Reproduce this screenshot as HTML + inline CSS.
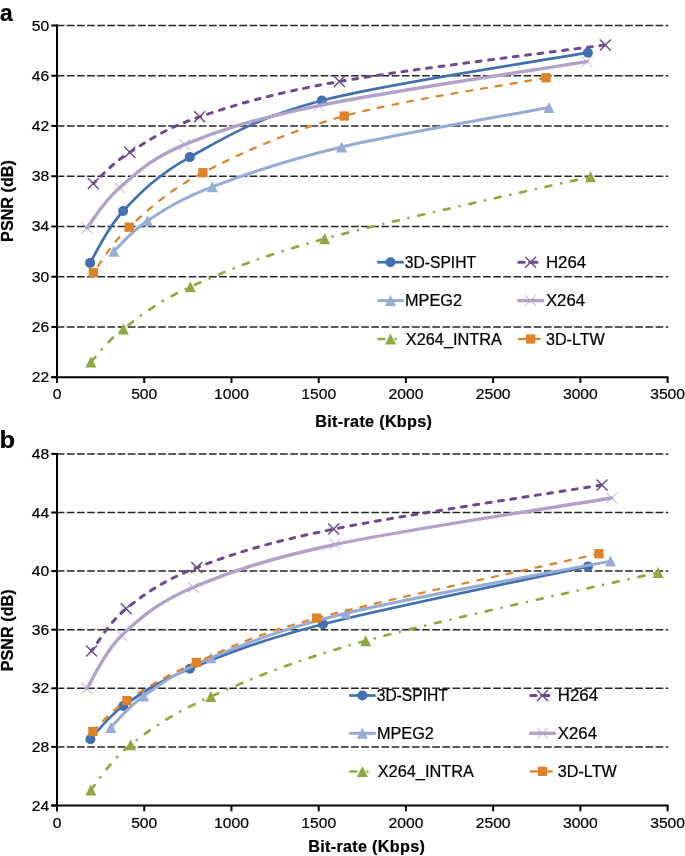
<!DOCTYPE html><html><head><meta charset="utf-8"><style>html,body{margin:0;padding:0;background:#fff;}svg{display:block;filter:blur(0.35px);}text{font-family:"Liberation Sans", sans-serif;stroke:#000;stroke-width:0.22px;}</style></head><body>
<svg width="685" height="856" viewBox="0 0 685 856">
<rect width="685" height="856" fill="#fff"/>
<line x1="56.7" y1="326.96" x2="668.2" y2="326.96" stroke="#262626" stroke-width="1.5" stroke-dasharray="7.7 2.45"/>
<line x1="56.7" y1="276.71" x2="668.2" y2="276.71" stroke="#262626" stroke-width="1.5" stroke-dasharray="7.7 2.45"/>
<line x1="56.7" y1="226.47" x2="668.2" y2="226.47" stroke="#262626" stroke-width="1.5" stroke-dasharray="7.7 2.45"/>
<line x1="56.7" y1="176.23" x2="668.2" y2="176.23" stroke="#262626" stroke-width="1.5" stroke-dasharray="7.7 2.45"/>
<line x1="56.7" y1="125.99" x2="668.2" y2="125.99" stroke="#262626" stroke-width="1.5" stroke-dasharray="7.7 2.45"/>
<line x1="56.7" y1="75.74" x2="668.2" y2="75.74" stroke="#262626" stroke-width="1.5" stroke-dasharray="7.7 2.45"/>
<line x1="56.7" y1="25.50" x2="668.2" y2="25.50" stroke="#262626" stroke-width="1.5" stroke-dasharray="7.7 2.45"/>
<path d="M90.10,262.90 C95.62,254.25 106.58,228.63 123.20,211.00 C139.82,193.37 156.68,175.52 189.80,157.10 C222.92,138.68 255.55,117.90 321.90,100.50 C388.25,83.10 543.57,60.67 587.90,52.70" fill="none" stroke="#4170AE" stroke-width="2.70" stroke-linecap="round" stroke-linejoin="round"/>
<circle cx="90.10" cy="262.90" r="5.0" fill="#4170AE"/>
<circle cx="123.20" cy="211.00" r="5.0" fill="#4170AE"/>
<circle cx="189.80" cy="157.10" r="5.0" fill="#4170AE"/>
<circle cx="321.90" cy="100.50" r="5.0" fill="#4170AE"/>
<circle cx="587.90" cy="52.70" r="5.0" fill="#4170AE"/>
<path d="M93.30,183.40 C99.38,178.22 112.07,163.40 129.80,152.30 C147.53,141.20 164.77,128.60 199.70,116.80 C234.63,105.00 271.80,93.48 339.40,81.50 C407.00,69.52 560.98,51.00 605.30,44.90" fill="none" stroke="#6A4B8E" stroke-width="3.00" stroke-linecap="round" stroke-linejoin="round" stroke-dasharray="4.9 7.55" stroke-dashoffset="-10.70"/>
<path d="M87.80,177.90 L98.80,188.90 M87.80,188.90 L98.80,177.90" stroke="#6A4B8E" stroke-width="1.45" fill="none"/>
<path d="M124.30,146.80 L135.30,157.80 M124.30,157.80 L135.30,146.80" stroke="#6A4B8E" stroke-width="1.45" fill="none"/>
<path d="M194.20,111.30 L205.20,122.30 M194.20,122.30 L205.20,111.30" stroke="#6A4B8E" stroke-width="1.45" fill="none"/>
<path d="M333.90,76.00 L344.90,87.00 M333.90,87.00 L344.90,76.00" stroke="#6A4B8E" stroke-width="1.45" fill="none"/>
<path d="M599.80,39.40 L610.80,50.40 M599.80,50.40 L610.80,39.40" stroke="#6A4B8E" stroke-width="1.45" fill="none"/>
<path d="M113.80,251.20 C119.42,246.13 131.08,231.53 147.50,220.80 C163.92,210.07 179.95,199.10 212.30,186.80 C244.65,174.50 285.48,160.22 341.60,147.00 C397.72,133.78 514.43,114.08 549.00,107.50" fill="none" stroke="#97ACD4" stroke-width="3.00" stroke-linecap="round" stroke-linejoin="round"/>
<path d="M113.80,245.70 L119.30,256.70 L108.30,256.70 Z" fill="#97ACD4"/>
<path d="M147.50,215.30 L153.00,226.30 L142.00,226.30 Z" fill="#97ACD4"/>
<path d="M212.30,181.30 L217.80,192.30 L206.80,192.30 Z" fill="#97ACD4"/>
<path d="M341.60,141.50 L347.10,152.50 L336.10,152.50 Z" fill="#97ACD4"/>
<path d="M549.00,102.00 L554.50,113.00 L543.50,113.00 Z" fill="#97ACD4"/>
<path d="M87.00,228.00 C92.42,221.28 103.27,201.60 119.50,187.70 C135.73,173.80 151.13,158.28 184.40,144.60 C217.67,130.92 252.02,119.43 319.10,105.60 C386.18,91.77 542.27,68.93 586.90,61.60" fill="none" stroke="#B1A2C9" stroke-width="3.40" stroke-linecap="round" stroke-linejoin="round"/>
<path d="M81.60,222.60 L92.40,233.40 M81.60,233.40 L92.40,222.60" stroke="#B1A2C9" stroke-width="1.0" fill="none"/>
<path d="M114.10,182.30 L124.90,193.10 M114.10,193.10 L124.90,182.30" stroke="#B1A2C9" stroke-width="1.0" fill="none"/>
<path d="M179.00,139.20 L189.80,150.00 M179.00,150.00 L189.80,139.20" stroke="#B1A2C9" stroke-width="1.0" fill="none"/>
<path d="M313.70,100.20 L324.50,111.00 M313.70,111.00 L324.50,100.20" stroke="#B1A2C9" stroke-width="1.0" fill="none"/>
<path d="M581.50,56.20 L592.30,67.00 M581.50,67.00 L592.30,56.20" stroke="#B1A2C9" stroke-width="1.0" fill="none"/>
<path d="M90.90,362.00 C96.30,356.50 106.72,341.53 123.30,329.00 C139.88,316.47 156.85,301.83 190.40,286.80 C223.95,271.77 257.92,257.15 324.60,238.80 C391.28,220.45 546.18,187.05 590.50,176.70" fill="none" stroke="#90A742" stroke-width="2.70" stroke-linecap="round" stroke-linejoin="round" stroke-dasharray="6 10 0.01 10.02" stroke-dashoffset="-0.80"/>
<path d="M90.90,356.50 L96.40,367.50 L85.40,367.50 Z" fill="#90A742"/>
<path d="M123.30,323.50 L128.80,334.50 L117.80,334.50 Z" fill="#90A742"/>
<path d="M190.40,281.30 L195.90,292.30 L184.90,292.30 Z" fill="#90A742"/>
<path d="M324.60,233.30 L330.10,244.30 L319.10,244.30 Z" fill="#90A742"/>
<path d="M590.50,171.20 L596.00,182.20 L585.00,182.20 Z" fill="#90A742"/>
<path d="M93.40,272.60 C99.37,265.03 110.95,243.85 129.20,227.20 C147.45,210.55 167.07,191.23 202.90,172.70 C238.73,154.17 287.02,131.82 344.20,116.00 C401.38,100.18 512.37,84.17 546.00,77.80" fill="none" stroke="#DD842A" stroke-width="2.20" stroke-linecap="round" stroke-linejoin="round" stroke-dasharray="6.0 8.95" stroke-dashoffset="-8.30"/>
<rect x="88.75" y="267.95" width="9.30" height="9.30" fill="#DD842A"/>
<rect x="124.55" y="222.55" width="9.30" height="9.30" fill="#DD842A"/>
<rect x="198.25" y="168.05" width="9.30" height="9.30" fill="#DD842A"/>
<rect x="339.55" y="111.35" width="9.30" height="9.30" fill="#DD842A"/>
<rect x="541.35" y="73.15" width="9.30" height="9.30" fill="#DD842A"/>
<line x1="57" y1="24.50" x2="57" y2="383.00" stroke="#000" stroke-width="2"/>
<line x1="51.3" y1="377.20" x2="668.60" y2="377.20" stroke="#000" stroke-width="2"/>
<line x1="51.3" y1="377.20" x2="57" y2="377.20" stroke="#000" stroke-width="2"/>
<text transform="translate(49.2,382.20) scale(1,0.930)" font-size="15.7" text-anchor="end" fill="#000">22</text>
<line x1="51.3" y1="326.96" x2="57" y2="326.96" stroke="#000" stroke-width="2"/>
<text transform="translate(49.2,331.96) scale(1,0.930)" font-size="15.7" text-anchor="end" fill="#000">26</text>
<line x1="51.3" y1="276.71" x2="57" y2="276.71" stroke="#000" stroke-width="2"/>
<text transform="translate(49.2,281.71) scale(1,0.930)" font-size="15.7" text-anchor="end" fill="#000">30</text>
<line x1="51.3" y1="226.47" x2="57" y2="226.47" stroke="#000" stroke-width="2"/>
<text transform="translate(49.2,231.47) scale(1,0.930)" font-size="15.7" text-anchor="end" fill="#000">34</text>
<line x1="51.3" y1="176.23" x2="57" y2="176.23" stroke="#000" stroke-width="2"/>
<text transform="translate(49.2,181.23) scale(1,0.930)" font-size="15.7" text-anchor="end" fill="#000">38</text>
<line x1="51.3" y1="125.99" x2="57" y2="125.99" stroke="#000" stroke-width="2"/>
<text transform="translate(49.2,130.99) scale(1,0.930)" font-size="15.7" text-anchor="end" fill="#000">42</text>
<line x1="51.3" y1="75.74" x2="57" y2="75.74" stroke="#000" stroke-width="2"/>
<text transform="translate(49.2,80.74) scale(1,0.930)" font-size="15.7" text-anchor="end" fill="#000">46</text>
<line x1="51.3" y1="25.50" x2="57" y2="25.50" stroke="#000" stroke-width="2"/>
<text transform="translate(49.2,30.50) scale(1,0.930)" font-size="15.7" text-anchor="end" fill="#000">50</text>
<line x1="57.00" y1="377.20" x2="57.00" y2="383.00" stroke="#000" stroke-width="2"/>
<text transform="translate(57.00,399.20) scale(1,0.950)" font-size="15.7" text-anchor="middle" fill="#000">0</text>
<line x1="144.23" y1="377.20" x2="144.23" y2="383.00" stroke="#000" stroke-width="2"/>
<text transform="translate(144.23,399.20) scale(1,0.950)" font-size="15.7" text-anchor="middle" fill="#000">500</text>
<line x1="231.46" y1="377.20" x2="231.46" y2="383.00" stroke="#000" stroke-width="2"/>
<text transform="translate(231.46,399.20) scale(1,0.950)" font-size="15.7" text-anchor="middle" fill="#000">1000</text>
<line x1="318.69" y1="377.20" x2="318.69" y2="383.00" stroke="#000" stroke-width="2"/>
<text transform="translate(318.69,399.20) scale(1,0.950)" font-size="15.7" text-anchor="middle" fill="#000">1500</text>
<line x1="405.91" y1="377.20" x2="405.91" y2="383.00" stroke="#000" stroke-width="2"/>
<text transform="translate(405.91,399.20) scale(1,0.950)" font-size="15.7" text-anchor="middle" fill="#000">2000</text>
<line x1="493.14" y1="377.20" x2="493.14" y2="383.00" stroke="#000" stroke-width="2"/>
<text transform="translate(493.14,399.20) scale(1,0.950)" font-size="15.7" text-anchor="middle" fill="#000">2500</text>
<line x1="580.37" y1="377.20" x2="580.37" y2="383.00" stroke="#000" stroke-width="2"/>
<text transform="translate(580.37,399.20) scale(1,0.950)" font-size="15.7" text-anchor="middle" fill="#000">3000</text>
<line x1="667.60" y1="377.20" x2="667.60" y2="383.00" stroke="#000" stroke-width="2"/>
<text transform="translate(667.60,399.20) scale(1,0.950)" font-size="15.7" text-anchor="middle" fill="#000">3500</text>
<line x1="56.7" y1="746.90" x2="668.2" y2="746.90" stroke="#262626" stroke-width="1.5" stroke-dasharray="7.7 2.45"/>
<line x1="56.7" y1="688.30" x2="668.2" y2="688.30" stroke="#262626" stroke-width="1.5" stroke-dasharray="7.7 2.45"/>
<line x1="56.7" y1="629.70" x2="668.2" y2="629.70" stroke="#262626" stroke-width="1.5" stroke-dasharray="7.7 2.45"/>
<line x1="56.7" y1="571.10" x2="668.2" y2="571.10" stroke="#262626" stroke-width="1.5" stroke-dasharray="7.7 2.45"/>
<line x1="56.7" y1="512.50" x2="668.2" y2="512.50" stroke="#262626" stroke-width="1.5" stroke-dasharray="7.7 2.45"/>
<line x1="56.7" y1="453.90" x2="668.2" y2="453.90" stroke="#262626" stroke-width="1.5" stroke-dasharray="7.7 2.45"/>
<path d="M90.40,739.30 C95.88,733.75 106.72,717.77 123.30,706.00 C139.88,694.23 156.63,682.32 189.90,668.70 C223.17,655.08 256.55,641.35 322.90,624.30 C389.25,607.25 543.82,576.05 588.00,566.40" fill="none" stroke="#4170AE" stroke-width="2.70" stroke-linecap="round" stroke-linejoin="round"/>
<circle cx="90.40" cy="739.30" r="5.0" fill="#4170AE"/>
<circle cx="123.30" cy="706.00" r="5.0" fill="#4170AE"/>
<circle cx="189.90" cy="668.70" r="5.0" fill="#4170AE"/>
<circle cx="322.90" cy="624.30" r="5.0" fill="#4170AE"/>
<circle cx="588.00" cy="566.40" r="5.0" fill="#4170AE"/>
<path d="M91.60,650.90 C97.37,643.87 108.67,622.58 126.20,608.70 C143.73,594.82 162.22,580.87 196.80,567.60 C231.38,554.33 266.17,542.88 333.70,529.10 C401.23,515.32 557.28,492.27 602.00,484.90" fill="none" stroke="#6A4B8E" stroke-width="3.00" stroke-linecap="round" stroke-linejoin="round" stroke-dasharray="4.9 7.55" stroke-dashoffset="-10.45"/>
<path d="M86.10,645.40 L97.10,656.40 M86.10,656.40 L97.10,645.40" stroke="#6A4B8E" stroke-width="1.45" fill="none"/>
<path d="M120.70,603.20 L131.70,614.20 M120.70,614.20 L131.70,603.20" stroke="#6A4B8E" stroke-width="1.45" fill="none"/>
<path d="M191.30,562.10 L202.30,573.10 M191.30,573.10 L202.30,562.10" stroke="#6A4B8E" stroke-width="1.45" fill="none"/>
<path d="M328.20,523.60 L339.20,534.60 M328.20,534.60 L339.20,523.60" stroke="#6A4B8E" stroke-width="1.45" fill="none"/>
<path d="M596.50,479.40 L607.50,490.40 M596.50,490.40 L607.50,479.40" stroke="#6A4B8E" stroke-width="1.45" fill="none"/>
<path d="M110.90,727.50 C116.37,722.25 127.02,707.62 143.70,696.00 C160.38,684.38 177.27,671.60 211.00,657.80 C244.73,644.00 279.52,629.32 346.10,613.20 C412.68,597.08 566.43,569.78 610.50,561.10" fill="none" stroke="#97ACD4" stroke-width="3.00" stroke-linecap="round" stroke-linejoin="round"/>
<path d="M110.90,722.00 L116.40,733.00 L105.40,733.00 Z" fill="#97ACD4"/>
<path d="M143.70,690.50 L149.20,701.50 L138.20,701.50 Z" fill="#97ACD4"/>
<path d="M211.00,652.30 L216.50,663.30 L205.50,663.30 Z" fill="#97ACD4"/>
<path d="M346.10,607.70 L351.60,618.70 L340.60,618.70 Z" fill="#97ACD4"/>
<path d="M610.50,555.60 L616.00,566.60 L605.00,566.60 Z" fill="#97ACD4"/>
<path d="M87.00,688.30 C92.78,679.48 103.98,652.23 121.70,635.40 C139.42,618.57 157.73,602.45 193.30,587.30 C228.87,572.15 265.37,559.38 335.10,544.50 C404.83,529.62 565.60,505.75 611.70,498.00" fill="none" stroke="#B1A2C9" stroke-width="3.40" stroke-linecap="round" stroke-linejoin="round"/>
<path d="M81.60,682.90 L92.40,693.70 M81.60,693.70 L92.40,682.90" stroke="#B1A2C9" stroke-width="1.0" fill="none"/>
<path d="M116.30,630.00 L127.10,640.80 M116.30,640.80 L127.10,630.00" stroke="#B1A2C9" stroke-width="1.0" fill="none"/>
<path d="M187.90,581.90 L198.70,592.70 M187.90,592.70 L198.70,581.90" stroke="#B1A2C9" stroke-width="1.0" fill="none"/>
<path d="M329.70,539.10 L340.50,549.90 M329.70,549.90 L340.50,539.10" stroke="#B1A2C9" stroke-width="1.0" fill="none"/>
<path d="M606.30,492.60 L617.10,503.40 M606.30,503.40 L617.10,492.60" stroke="#B1A2C9" stroke-width="1.0" fill="none"/>
<path d="M90.80,790.00 C97.43,782.45 110.60,760.27 130.60,744.70 C150.60,729.13 171.62,713.92 210.80,696.60 C249.98,679.28 291.15,661.48 365.70,640.80 C440.25,620.12 609.37,583.88 658.10,572.50" fill="none" stroke="#90A742" stroke-width="2.70" stroke-linecap="round" stroke-linejoin="round" stroke-dasharray="6 10 0.01 10.02" stroke-dashoffset="-0.26"/>
<path d="M90.80,784.50 L96.30,795.50 L85.30,795.50 Z" fill="#90A742"/>
<path d="M130.60,739.20 L136.10,750.20 L125.10,750.20 Z" fill="#90A742"/>
<path d="M210.80,691.10 L216.30,702.10 L205.30,702.10 Z" fill="#90A742"/>
<path d="M365.70,635.30 L371.20,646.30 L360.20,646.30 Z" fill="#90A742"/>
<path d="M658.10,567.00 L663.60,578.00 L652.60,578.00 Z" fill="#90A742"/>
<path d="M92.90,731.50 C98.57,726.35 109.67,712.10 126.90,700.60 C144.13,689.10 164.68,676.25 196.30,662.50 C227.92,648.75 249.50,636.23 316.60,618.10 C383.70,599.97 551.85,564.43 598.90,553.70" fill="none" stroke="#DD842A" stroke-width="2.20" stroke-linecap="round" stroke-linejoin="round" stroke-dasharray="6.0 8.95" stroke-dashoffset="-0.02"/>
<rect x="88.25" y="726.85" width="9.30" height="9.30" fill="#DD842A"/>
<rect x="122.25" y="695.95" width="9.30" height="9.30" fill="#DD842A"/>
<rect x="191.65" y="657.85" width="9.30" height="9.30" fill="#DD842A"/>
<rect x="311.95" y="613.45" width="9.30" height="9.30" fill="#DD842A"/>
<rect x="594.25" y="549.05" width="9.30" height="9.30" fill="#DD842A"/>
<line x1="57" y1="452.90" x2="57" y2="811.30" stroke="#000" stroke-width="2"/>
<line x1="51.3" y1="805.50" x2="668.60" y2="805.50" stroke="#000" stroke-width="2"/>
<line x1="51.3" y1="805.50" x2="57" y2="805.50" stroke="#000" stroke-width="2"/>
<text transform="translate(49.2,810.50) scale(1,0.930)" font-size="15.7" text-anchor="end" fill="#000">24</text>
<line x1="51.3" y1="746.90" x2="57" y2="746.90" stroke="#000" stroke-width="2"/>
<text transform="translate(49.2,751.90) scale(1,0.930)" font-size="15.7" text-anchor="end" fill="#000">28</text>
<line x1="51.3" y1="688.30" x2="57" y2="688.30" stroke="#000" stroke-width="2"/>
<text transform="translate(49.2,693.30) scale(1,0.930)" font-size="15.7" text-anchor="end" fill="#000">32</text>
<line x1="51.3" y1="629.70" x2="57" y2="629.70" stroke="#000" stroke-width="2"/>
<text transform="translate(49.2,634.70) scale(1,0.930)" font-size="15.7" text-anchor="end" fill="#000">36</text>
<line x1="51.3" y1="571.10" x2="57" y2="571.10" stroke="#000" stroke-width="2"/>
<text transform="translate(49.2,576.10) scale(1,0.930)" font-size="15.7" text-anchor="end" fill="#000">40</text>
<line x1="51.3" y1="512.50" x2="57" y2="512.50" stroke="#000" stroke-width="2"/>
<text transform="translate(49.2,517.50) scale(1,0.930)" font-size="15.7" text-anchor="end" fill="#000">44</text>
<line x1="51.3" y1="453.90" x2="57" y2="453.90" stroke="#000" stroke-width="2"/>
<text transform="translate(49.2,458.90) scale(1,0.930)" font-size="15.7" text-anchor="end" fill="#000">48</text>
<line x1="57.00" y1="805.50" x2="57.00" y2="811.30" stroke="#000" stroke-width="2"/>
<text transform="translate(57.00,827.50) scale(1,0.950)" font-size="15.7" text-anchor="middle" fill="#000">0</text>
<line x1="144.23" y1="805.50" x2="144.23" y2="811.30" stroke="#000" stroke-width="2"/>
<text transform="translate(144.23,827.50) scale(1,0.950)" font-size="15.7" text-anchor="middle" fill="#000">500</text>
<line x1="231.46" y1="805.50" x2="231.46" y2="811.30" stroke="#000" stroke-width="2"/>
<text transform="translate(231.46,827.50) scale(1,0.950)" font-size="15.7" text-anchor="middle" fill="#000">1000</text>
<line x1="318.69" y1="805.50" x2="318.69" y2="811.30" stroke="#000" stroke-width="2"/>
<text transform="translate(318.69,827.50) scale(1,0.950)" font-size="15.7" text-anchor="middle" fill="#000">1500</text>
<line x1="405.91" y1="805.50" x2="405.91" y2="811.30" stroke="#000" stroke-width="2"/>
<text transform="translate(405.91,827.50) scale(1,0.950)" font-size="15.7" text-anchor="middle" fill="#000">2000</text>
<line x1="493.14" y1="805.50" x2="493.14" y2="811.30" stroke="#000" stroke-width="2"/>
<text transform="translate(493.14,827.50) scale(1,0.950)" font-size="15.7" text-anchor="middle" fill="#000">2500</text>
<line x1="580.37" y1="805.50" x2="580.37" y2="811.30" stroke="#000" stroke-width="2"/>
<text transform="translate(580.37,827.50) scale(1,0.950)" font-size="15.7" text-anchor="middle" fill="#000">3000</text>
<line x1="667.60" y1="805.50" x2="667.60" y2="811.30" stroke="#000" stroke-width="2"/>
<text transform="translate(667.60,827.50) scale(1,0.950)" font-size="15.7" text-anchor="middle" fill="#000">3500</text>
<text x="373.8" y="426.6" font-size="16.2" font-weight="bold" letter-spacing="0.3" text-anchor="middle">Bit-rate (Kbps)</text>
<text x="366.7" y="851.8" font-size="16.2" font-weight="bold" letter-spacing="0.3" text-anchor="middle">Bit-rate (Kbps)</text>
<text transform="translate(13.2,201.0) rotate(-90)" x="0" y="0" font-size="16.2" font-weight="bold" letter-spacing="0" text-anchor="middle">PSNR (dB)</text>
<text transform="translate(13.4,630.3) rotate(-90)" x="0" y="0" font-size="16.2" font-weight="bold" letter-spacing="0" text-anchor="middle">PSNR (dB)</text>
<text transform="translate(-0.1,20.7) scale(0.95,1)" font-size="24" font-weight="bold">a</text>
<text transform="translate(-0.4,447.5) scale(1.08,1)" font-size="23.6" font-weight="bold">b</text>
<line x1="377.20" y1="262.20" x2="403.80" y2="262.20" stroke="#4170AE" stroke-width="2.70"/>
<circle cx="390.50" cy="262.20" r="5.0" fill="#4170AE"/>
<text x="404.80" y="267.90" font-size="15.8" fill="#000" textLength="71.2" lengthAdjust="spacingAndGlyphs">3D-SPIHT</text>
<path d="M518.80,262.20 H524.20 M529.70,262.20 H537.00" stroke="#6A4B8E" stroke-width="3" stroke-linecap="round" fill="none"/>
<path d="M525.10,256.70 L536.10,267.70 M525.10,267.70 L536.10,256.70" stroke="#6A4B8E" stroke-width="1.45" fill="none"/>
<text x="545.90" y="267.90" font-size="15.8" fill="#000" textLength="40.2" lengthAdjust="spacingAndGlyphs">H264</text>
<line x1="377.20" y1="300.60" x2="403.80" y2="300.60" stroke="#97ACD4" stroke-width="3.00"/>
<path d="M390.50,295.10 L396.00,306.10 L385.00,306.10 Z" fill="#97ACD4"/>
<text x="405.00" y="306.30" font-size="15.8" fill="#000" textLength="57.0" lengthAdjust="spacingAndGlyphs">MPEG2</text>
<line x1="517.30" y1="300.60" x2="543.90" y2="300.60" stroke="#B1A2C9" stroke-width="3.40"/>
<path d="M525.20,295.20 L536.00,306.00 M525.20,306.00 L536.00,295.20" stroke="#B1A2C9" stroke-width="1.0" fill="none"/>
<text x="545.90" y="306.30" font-size="15.8" fill="#000" textLength="39.2" lengthAdjust="spacingAndGlyphs">X264</text>
<path d="M378.40,339.00 H384.40 M395.60,339.00 h0.01" stroke="#90A742" stroke-width="2.5" stroke-linecap="round" fill="none"/>
<path d="M390.50,333.50 L396.00,344.50 L385.00,344.50 Z" fill="#90A742"/>
<text x="405.80" y="344.70" font-size="15.8" fill="#000" textLength="96.2" lengthAdjust="spacingAndGlyphs">X264_INTRA</text>
<line x1="518.00" y1="339.00" x2="540.70" y2="339.00" stroke="#DD842A" stroke-width="2.20"/>
<rect x="525.95" y="334.35" width="9.30" height="9.30" fill="#DD842A"/>
<text x="545.90" y="344.70" font-size="15.8" fill="#000" textLength="59.0" lengthAdjust="spacingAndGlyphs">3D-LTW</text>
<line x1="349.10" y1="695.50" x2="375.70" y2="695.50" stroke="#4170AE" stroke-width="2.70"/>
<circle cx="362.40" cy="695.50" r="5.0" fill="#4170AE"/>
<text x="376.70" y="701.20" font-size="15.8" fill="#000" textLength="71.2" lengthAdjust="spacingAndGlyphs">3D-SPIHT</text>
<path d="M530.70,695.50 H536.10 M541.60,695.50 H548.90" stroke="#6A4B8E" stroke-width="3" stroke-linecap="round" fill="none"/>
<path d="M537.00,690.00 L548.00,701.00 M537.00,701.00 L548.00,690.00" stroke="#6A4B8E" stroke-width="1.45" fill="none"/>
<text x="557.80" y="701.20" font-size="15.8" fill="#000" textLength="40.2" lengthAdjust="spacingAndGlyphs">H264</text>
<line x1="349.10" y1="733.30" x2="375.70" y2="733.30" stroke="#97ACD4" stroke-width="3.00"/>
<path d="M362.40,727.80 L367.90,738.80 L356.90,738.80 Z" fill="#97ACD4"/>
<text x="376.90" y="739.00" font-size="15.8" fill="#000" textLength="57.0" lengthAdjust="spacingAndGlyphs">MPEG2</text>
<line x1="529.20" y1="733.30" x2="555.80" y2="733.30" stroke="#B1A2C9" stroke-width="3.40"/>
<path d="M537.10,727.90 L547.90,738.70 M537.10,738.70 L547.90,727.90" stroke="#B1A2C9" stroke-width="1.0" fill="none"/>
<text x="557.80" y="739.00" font-size="15.8" fill="#000" textLength="39.2" lengthAdjust="spacingAndGlyphs">X264</text>
<path d="M350.30,771.40 H356.30 M367.50,771.40 h0.01" stroke="#90A742" stroke-width="2.5" stroke-linecap="round" fill="none"/>
<path d="M362.40,765.90 L367.90,776.90 L356.90,776.90 Z" fill="#90A742"/>
<text x="377.70" y="777.10" font-size="15.8" fill="#000" textLength="96.2" lengthAdjust="spacingAndGlyphs">X264_INTRA</text>
<line x1="529.90" y1="771.40" x2="552.60" y2="771.40" stroke="#DD842A" stroke-width="2.20"/>
<rect x="537.85" y="766.75" width="9.30" height="9.30" fill="#DD842A"/>
<text x="557.80" y="777.10" font-size="15.8" fill="#000" textLength="59.0" lengthAdjust="spacingAndGlyphs">3D-LTW</text>
</svg></body></html>
